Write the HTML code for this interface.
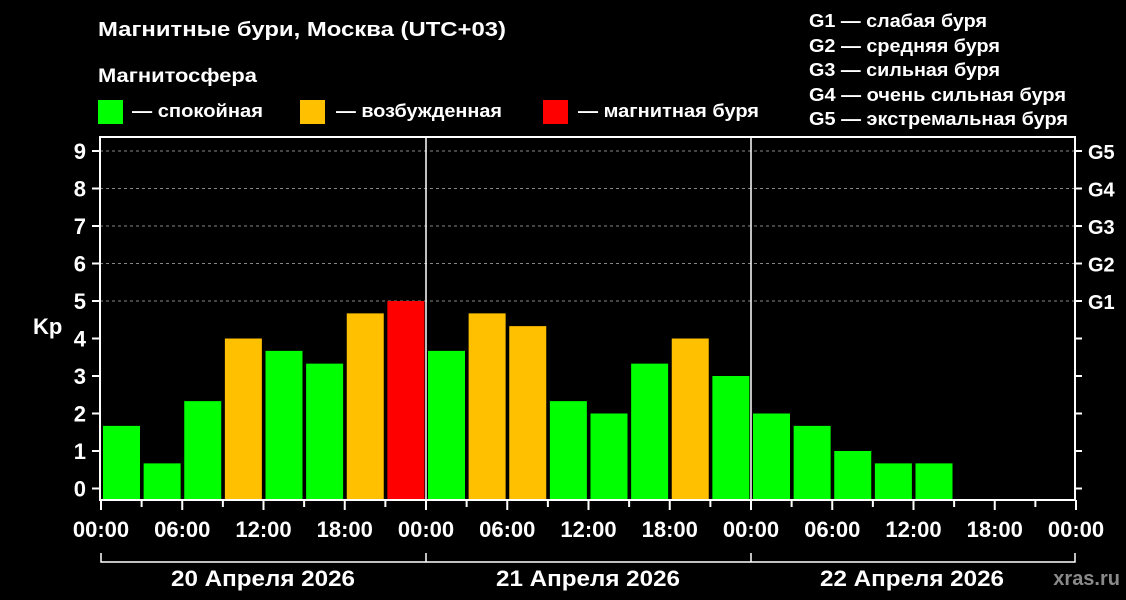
<!DOCTYPE html>
<html><head><meta charset="utf-8"><style>
html,body{margin:0;padding:0;background:#000;}
svg{display:block;}
text{font-family:"Liberation Sans","DejaVu Sans",sans-serif;font-weight:bold;fill:#fff;}
</style></head><body>
<svg width="1126" height="600" viewBox="0 0 1126 600" xmlns="http://www.w3.org/2000/svg">
<rect width="1126" height="600" fill="#000"/>
<text x="98" y="36" font-size="20" textLength="408" lengthAdjust="spacingAndGlyphs">Магнитные бури, Москва (UTC+03)</text>
<text x="98" y="82" font-size="19" textLength="159" lengthAdjust="spacingAndGlyphs">Магнитосфера</text>
<rect x="98" y="100" width="25" height="24" fill="#00ff00"/>
<text x="132" y="117" font-size="18" textLength="131" lengthAdjust="spacingAndGlyphs">— спокойная</text>
<rect x="300" y="100" width="25" height="24" fill="#ffc000"/>
<text x="336" y="117" font-size="18" textLength="166" lengthAdjust="spacingAndGlyphs">— возбужденная</text>
<rect x="543" y="100" width="25" height="24" fill="#ff0000"/>
<text x="578" y="117" font-size="18" textLength="181" lengthAdjust="spacingAndGlyphs">— магнитная буря</text>
<g font-size="18">
<text x="809" y="27" textLength="178" lengthAdjust="spacingAndGlyphs">G1 — слабая буря</text>
<text x="809" y="52" textLength="191" lengthAdjust="spacingAndGlyphs">G2 — средняя буря</text>
<text x="809" y="76" textLength="191" lengthAdjust="spacingAndGlyphs">G3 — сильная буря</text>
<text x="809" y="101" textLength="257" lengthAdjust="spacingAndGlyphs">G4 — очень сильная буря</text>
<text x="809" y="125" textLength="259" lengthAdjust="spacingAndGlyphs">G5 — экстремальная буря</text>
</g>
<g stroke="#888" stroke-width="1" stroke-dasharray="3,3">
<line x1="100" x2="1075" y1="151" y2="151"/>
<line x1="100" x2="1075" y1="188.5" y2="188.5"/>
<line x1="100" x2="1075" y1="226" y2="226"/>
<line x1="100" x2="1075" y1="263.5" y2="263.5"/>
<line x1="100" x2="1075" y1="301" y2="301"/>
</g>
<g id="bars"></g>
<g stroke="#fff" stroke-width="2" fill="none">
<rect x="100" y="137" width="975" height="363"/>
<line x1="426" x2="426" y1="137" y2="500" stroke-width="1.5"/>
<line x1="751" x2="751" y1="137" y2="500" stroke-width="1.5"/>
</g>
<g id="ticks" stroke="#fff" stroke-width="2"></g>
<g font-size="22" text-anchor="end">
<text x="86" y="159">9</text><text x="86" y="196.5">8</text><text x="86" y="234">7</text>
<text x="86" y="271.5">6</text><text x="86" y="309">5</text><text x="86" y="346.5">4</text>
<text x="86" y="384">3</text><text x="86" y="421.5">2</text><text x="86" y="459">1</text>
<text x="86" y="496.5">0</text>
</g>
<g font-size="20">
<text x="1088" y="159">G5</text><text x="1088" y="196.5">G4</text><text x="1088" y="234">G3</text>
<text x="1088" y="271.5">G2</text><text x="1088" y="309">G1</text>
</g>
<text x="33" y="334" font-size="22">Kp</text>
<g font-size="22" text-anchor="middle" id="xl"></g>
<g stroke="#fff" stroke-width="1.5" fill="none">
<polyline points="101,553 101,562 1075,562 1075,553"/>
<line x1="426" x2="426" y1="553" y2="562"/>
<line x1="751" x2="751" y1="553" y2="562"/>
</g>
<g font-size="22" text-anchor="middle">
<text x="263" y="586" textLength="184" lengthAdjust="spacingAndGlyphs">20 Апреля 2026</text>
<text x="588" y="586" textLength="184" lengthAdjust="spacingAndGlyphs">21 Апреля 2026</text>
<text x="912" y="586" textLength="184" lengthAdjust="spacingAndGlyphs">22 Апреля 2026</text>
</g>
<text x="1120" y="585" font-size="20" text-anchor="end" style="fill:#8a8a8a">xras.ru</text>
<script>
var ns="http://www.w3.org/2000/svg";
var v=[1.67,0.67,2.33,4,3.67,3.33,4.67,5,3.67,4.67,4.33,2.33,2,3.33,4,3,2,1.67,1,0.67,0.67];
var b=document.getElementById("bars");
v.forEach(function(k,i){var r=document.createElementNS(ns,"rect");var top=488.5-k*37.5;
r.setAttribute("x",101+i*40.625+2);r.setAttribute("y",top);r.setAttribute("width",37);r.setAttribute("height",500-top);
r.setAttribute("fill",k>=5?"#ff0000":(k>=4?"#ffc000":"#00ff00"));b.appendChild(r);});
var t=document.getElementById("ticks");
function ln(a,b2,c,d){var l=document.createElementNS(ns,"line");l.setAttribute("x1",a);l.setAttribute("x2",b2);l.setAttribute("y1",c);l.setAttribute("y2",d);t.appendChild(l);}
for(var i=0;i<=24;i++){var x=101+i*40.625;ln(x,x,500,(i%2==0)?510:507);}
for(var j=0;j<=9;j++){var y=488.5-j*37.5;ln(92,100,y,y);ln(1075,1082,y,y);}
var xl=document.getElementById("xl");var labs=["00:00","06:00","12:00","18:00"];
for(var i=0;i<=12;i++){var tx=document.createElementNS(ns,"text");tx.setAttribute("x",101+i*81.25);tx.setAttribute("y",537);tx.textContent=labs[i%4];xl.appendChild(tx);}
</script>
</svg>
</body></html>
